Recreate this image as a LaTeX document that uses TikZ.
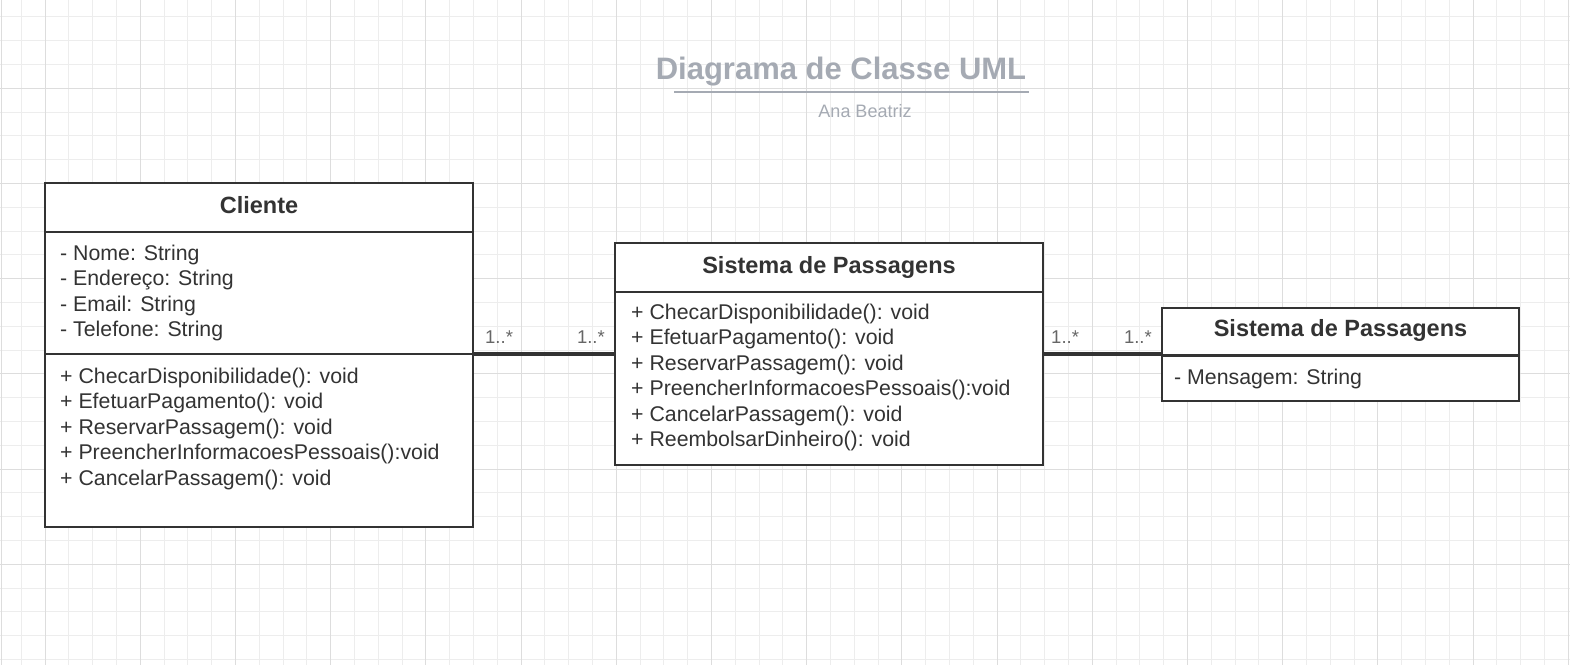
\documentclass[tikz,border=0pt]{standalone}
\usepackage{fontspec}
\setmainfont{Liberation Sans}
\definecolor{gridminor}{HTML}{EDEDED}
\definecolor{gridmajor}{HTML}{DDDDDD}
\definecolor{ink}{HTML}{333333}
\definecolor{titlegray}{HTML}{A5AAB3}
\definecolor{multgray}{HTML}{666666}
\begin{document}
\begin{tikzpicture}[x=1pt,y=-1pt,
  classbox/.style={draw=ink, line width=2.6pt, fill=white, rectangle,
    inner sep=0pt, outer sep=0pt, anchor=north west},
  divider/.style={draw=ink, line width=2.6pt},
  headtext/.style={font=\fontsize{23.5}{28}\selectfont\bfseries, text=ink,
    inner sep=0pt, anchor=base},
  rowtext/.style={font=\fontsize{21.3}{25.5}\selectfont, text=ink,
    inner sep=0pt, anchor=base west},
  assoc/.style={draw=ink, line width=3.2pt},
  mult/.style={font=\fontsize{18.5}{22}\selectfont, text=multgray,
    inner sep=0pt, anchor=base west}]
\useasboundingbox (0,0) rectangle (1570,665);
\fill[white] (0,0) rectangle (1570,665);

% background grid
\foreach \i in {0,...,66} {
  \draw[gridminor, line width=1pt] (21.2+23.8*\i,0) -- (21.2+23.8*\i,665);
}
\foreach \j in {0,...,28} {
  \draw[gridminor, line width=1pt] (0,-6.9+23.8*\j) -- (1570,-6.9+23.8*\j);
}
\foreach \i in {0,...,16} {
  \draw[gridmajor, line width=1pt] (45+95.2*\i,0) -- (45+95.2*\i,665);
}
\foreach \j in {0,...,6} {
  \draw[gridmajor, line width=1pt] (0,-6.9+95.2*\j) -- (1570,-6.9+95.2*\j);
}
\draw[gridmajor, line width=1pt] (1.5,0) -- (1.5,665);

% title block
\node[font=\fontsize{31}{36}\selectfont\bfseries, text=titlegray, inner sep=0pt,
  anchor=base] (title) at (841,79) {Diagrama de Classe UML};
\draw[titlegray, line width=2pt] (674,92.3) -- (1029,92.3);
\node[font=\fontsize{18}{22}\selectfont, text=titlegray, inner sep=0pt, anchor=base]
  (author) at (865,117.3) {Ana Beatriz};

% class Cliente
\node[classbox, minimum width=428pt, minimum height=344pt] (cli) at (45,183) {};
\draw[divider] (cli.west |- 0,232) -- (cli.east |- 0,232);
\draw[divider] (cli.west |- 0,354) -- (cli.east |- 0,354);
\node[headtext] (cli-name) at (259,213.3) {Cliente};
\foreach \t [count=\k from 0] in {- Nome: String, - Endereço: String,
    - Email: String, - Telefone: String}
  \node[rowtext] (cli-a\k) at (60,260+25.5*\k) {\t};
\foreach \t [count=\k from 0] in {+ ChecarDisponibilidade(): void,
    + EfetuarPagamento(): void, + ReservarPassagem(): void,
    + PreencherInformacoesPessoais():void, + CancelarPassagem(): void}
  \node[rowtext] (cli-m\k) at (60,383+25.5*\k) {\t};

% class Sistema de Passagens (operations)
\node[classbox, minimum width=428pt, minimum height=222pt] (sys) at (615,243) {};
\draw[divider] (sys.west |- 0,292) -- (sys.east |- 0,292);
\node[headtext] (sys-name) at (829,273.3) {Sistema de Passagens};
\foreach \t [count=\k from 0] in {+ ChecarDisponibilidade(): void,
    + EfetuarPagamento(): void, + ReservarPassagem(): void,
    + PreencherInformacoesPessoais():void, + CancelarPassagem(): void,
    + ReembolsarDinheiro(): void}
  \node[rowtext] (sys-m\k) at (631,319+25.5*\k) {\t};

% class Sistema de Passagens (message)
\node[classbox, minimum width=357pt, minimum height=93pt] (msg) at (1162,308) {};
\draw[divider] (msg.west |- 0,355.5) -- (msg.east |- 0,355.5);
\node[headtext] (msg-name) at (1340.5,336.7) {Sistema de Passagens};
\node[rowtext] (msg-a0) at (1174,384) {- Mensagem: String};

% associations
\draw[assoc] (sys.west -| cli.east) -- (sys.west);
\draw[assoc] (sys.east) -- (sys.east -| msg.west);

% multiplicities
\node[mult] (m1) at ([xshift=12pt,yshift=10.7pt]sys.west -| cli.east) {1..*};
\node[mult, anchor=base east] (m2) at ([xshift=-10pt,yshift=10.7pt]sys.west) {1..*};
\node[mult] (m3) at ([xshift=8pt,yshift=10.7pt]sys.east) {1..*};
\node[mult, anchor=base east] (m4) at ([xshift=-10pt,yshift=10.7pt]sys.east -| msg.west) {1..*};
\end{tikzpicture}
\end{document}
